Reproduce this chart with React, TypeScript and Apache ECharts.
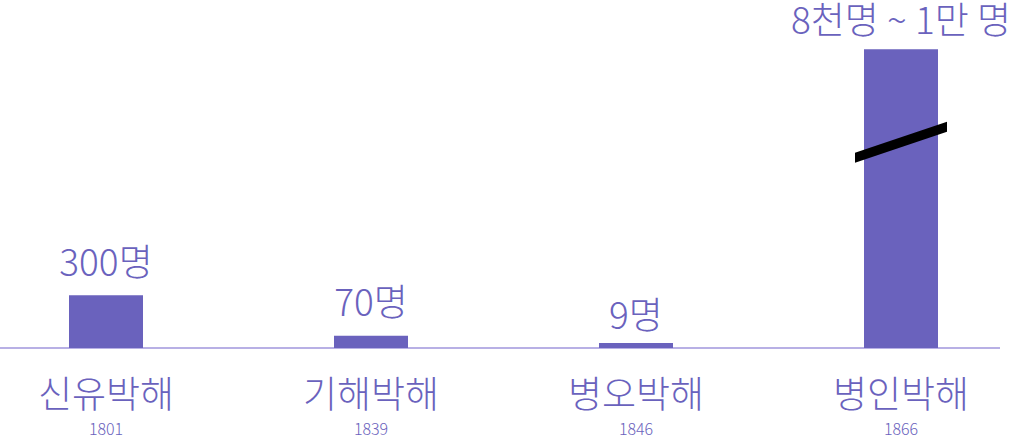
import React, { useEffect, useRef } from 'react';
import * as echarts from 'echarts';

const categories = ['신유박해', '기해박해', '병오박해', '병인박해'];
const years = ['1801', '1839', '1846', '1866'];
const victims = [300, 70, 9, 10000];
const valueLabels = ['300명', '70명', '9명', '8천명 ~ 1만 명'];
const labelGaps = [17, 17, 12, 13];

const PURPLE = '#6a62bd';
const FONT = '"Noto Sans CJK KR", "Noto Sans", sans-serif';

const App: React.FC = () => {
  const chartRef = useRef<HTMLDivElement>(null);

  useEffect(() => {
    document.body.style.margin = '0';
    if (!chartRef.current) return;
    const chart = echarts.init(chartRef.current, null, { renderer: 'svg' });

    const option = {
      animation: false,
      grid: { left: -26.5, right: -23.5, top: 0, bottom: 92, outerBoundsMode: 'none', containLabel: false },
      xAxis: {
        type: 'category',
        data: categories,
        axisLine: { show: false },
        axisTick: { show: false },
        axisLabel: {
          margin: 19,
          formatter: (v: string, i: number) => `{a|${v}}\n{b|${years[i]}}`,
          rich: {
            a: { fontSize: 37, fontWeight: 300, lineHeight: 50, color: PURPLE, fontFamily: FONT },
            b: { fontSize: 16, fontWeight: 300, lineHeight: 22, color: PURPLE, fontFamily: FONT },
          },
        },
      },
      yAxis: {
        type: 'value',
        min: 0,
        max: 10280,
        show: false,
        splitLine: { show: false },
        breaks: [{ start: 1170, end: 9470, gap: 0 }],
        breakArea: { show: false },
      },
      series: [
        {
          type: 'bar',
          data: victims.map((v, i) => ({ value: v, label: { distance: labelGaps[i] } })),
          barWidth: 74,
          barMinHeight: 5,
          itemStyle: { color: PURPLE },
          label: {
            show: true,
            position: 'top',
            fontSize: 37,
            fontWeight: 300,
            fontFamily: FONT,
            color: PURPLE,
            formatter: (p: any) => valueLabels[p.dataIndex],
          },
        },
      ],
    };

    chart.setOption(option);

    // 축선과 생략(물결) 표시
    const [, y0] = chart.convertToPixel({ xAxisIndex: 0, yAxisIndex: 0 }, [0, 0]);
    const [cx, cy] = chart.convertToPixel({ xAxisIndex: 0, yAxisIndex: 0 }, [3, 1170]);
    chart.setOption({
      graphic: [
        {
          type: 'line',
          shape: { x1: 0, y1: y0, x2: 1000, y2: y0 },
          style: { stroke: '#a096dc', lineWidth: 1.5 },
        },
        {
          type: 'polygon',
          shape: {
            points: [
              [cx - 46, cy + 15.5 - 5],
              [cx + 46, cy - 15.5 - 5],
              [cx + 46, cy - 15.5 + 5],
              [cx - 46, cy + 15.5 + 5],
            ],
          },
          style: { fill: '#000' },
          z: 100,
        },
      ],
    });

    return () => chart.dispose();
  }, []);

  return <div ref={chartRef} style={{ width: 1010, height: 440 }} />;
};

export default App;
